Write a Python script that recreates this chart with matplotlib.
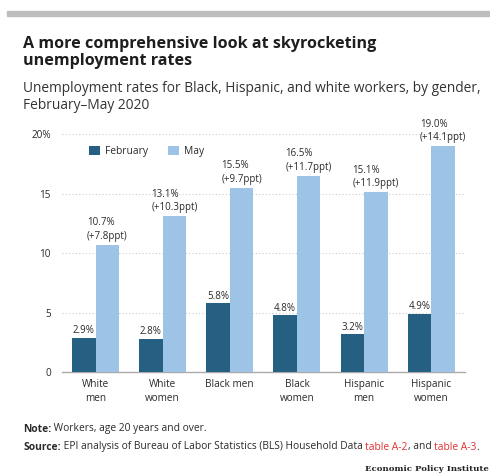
import numpy as np
import matplotlib.pyplot as plt

plt.rcParams['font.family'] = ['Open Sans', 'DejaVu Sans']

groups = ['White\nmen', 'White\nwomen', 'Black men', 'Black\nwomen', 'Hispanic\nmen', 'Hispanic\nwomen']
feb = [2.9, 2.8, 5.8, 4.8, 3.2, 4.9]
may = [10.7, 13.1, 15.5, 16.5, 15.1, 19.0]
yticks = [0, 5, 10, 15, 20]
ytick_labels = ['0', '5', '10', '15', '20%']

c_feb = '#256082'
c_may = '#9dc3e6'
c_text = '#2a2a2a'
c_link = '#e03030'

fig = plt.figure(figsize=(4.9, 4.74), dpi=100)

# grey band on top
fig.patches.append(plt.Rectangle((0.015, 0.966), 0.985, 0.011, transform=fig.transFigure,
                                 color='#bdbdbd', zorder=0))

fig.text(0.047, 0.924, 'A more comprehensive look at skyrocketing\nunemployment rates',
         fontsize=11.6, fontweight='bold', color='#1e1e1e', va='top', linespacing=1.1)
fig.text(0.047, 0.829, 'Unemployment rates for Black, Hispanic, and white workers, by gender,\nFebruary\u2013May 2020',
         fontsize=9.9, color='#333333', va='top', linespacing=1.15)

ax = fig.add_axes([0.1265, 0.215, 0.822, 0.502])
x = np.arange(len(groups))
w = 0.35
ax.bar(x - w / 2, feb, w, color=c_feb, label='February', zorder=3)
ax.bar(x + w / 2, may, w, color=c_may, label='May', zorder=3)

for i in range(len(groups)):
    ax.text(x[i] - w / 2, feb[i] + 0.12, f'{feb[i]:.1f}%', ha='center', va='bottom',
            fontsize=7, color=c_text)
    ax.text(x[i] + w / 2, may[i] + 0.25, f'{may[i]:.1f}%\n(+{may[i] - feb[i]:.1f}ppt)',
            ha='center', va='bottom', multialignment='left', fontsize=7, color=c_text,
            linespacing=1.3, clip_on=False)

ax.set_xlim(-0.5, len(groups) - 0.5)
ax.set_ylim(0, 20)
ax.set_yticks(yticks)
ax.set_yticklabels(ytick_labels)
ax.set_xticks(x)
ax.set_xticklabels(groups, fontsize=7.2, color=c_text, linespacing=1.35)
ax.tick_params(axis='y', length=0, labelsize=7.2, labelcolor=c_text, pad=8)
ax.tick_params(axis='x', length=0, pad=5)
ax.grid(axis='y', color='#cccccc', linestyle=(0, (1, 2)), linewidth=0.8, zorder=0)
for s in ['top', 'right', 'left']:
    ax.spines[s].set_visible(False)
ax.spines['bottom'].set_color('#aaaaaa')
ax.spines['bottom'].set_linewidth(1)

ax.legend(loc='upper left', bbox_to_anchor=(0.045, 0.99), ncol=2, frameon=False,
          fontsize=7.4, handlelength=1.0, handleheight=1.0, columnspacing=2.0,
          handletextpad=0.5, labelcolor=c_text)


def run(parts, y):
    # write text pieces one after the other on one line
    xpos = 0.047
    for s, color, weight in parts:
        t = fig.text(xpos, y, s, fontsize=7.4, color=color, fontweight=weight, va='center')
        fig.canvas.draw()
        xpos = t.get_window_extent().x1 / fig.bbox.width


run([('Note:', c_text, 'bold'), (' Workers, age 20 years and over.', c_text, 'normal')], 1 - 429 / 474)
run([('Source:', c_text, 'bold'),
     (' EPI analysis of Bureau of Labor Statistics (BLS) Household Data ', c_text, 'normal'),
     ('table A-2', c_link, 'normal'), (', and ', c_text, 'normal'),
     ('table A-3', c_link, 'normal'), ('.', c_text, 'normal')], 1 - 447 / 474)

fig.text(0.997, 1 - 469 / 474, 'Economic Policy Institute', fontsize=6.1, fontweight='bold',
         family='DejaVu Serif', ha='right', va='center', color='#222222')

fig.savefig('out.png', dpi=100)
